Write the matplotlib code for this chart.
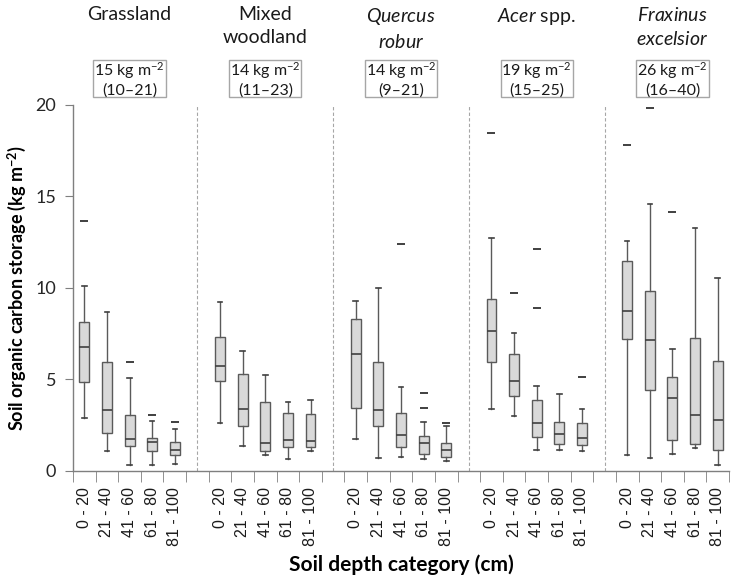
import matplotlib
matplotlib.use("Agg")
import matplotlib.pyplot as plt
from matplotlib.patches import Rectangle
from matplotlib.transforms import blended_transform_factory

plt.rcParams['font.family'] = ['Lato', 'DejaVu Sans']
plt.rcParams['mathtext.fontset'] = 'custom'
plt.rcParams['mathtext.rm'] = 'Lato'
plt.rcParams['mathtext.it'] = 'Lato:italic'
plt.rcParams['mathtext.bf'] = 'Lato:bold'

# ---------------- data ----------------
groups = ["Grassland", "Mixed\nwoodland", "$\\it{Quercus}$\n$\\it{robur}$",
          "$\\it{Acer}$ spp.", "$\\it{Fraxinus}$\n$\\it{excelsior}$"]
totals = ["15 kg m$^{-2}$\n(10–21)", "14 kg m$^{-2}$\n(11–23)", "14 kg m$^{-2}$\n(9–21)",
          "19 kg m$^{-2}$\n(15–25)", "26 kg m$^{-2}$\n(16–40)"]
depths = ["0 - 20", "21 - 40", "41 - 60", "61 - 80", "81 - 100"]

# per group: lists over depth categories
whislo = [[2.89, 1.07, 0.30, 0.30, 0.36],
          [2.58, 1.32, 0.83, 0.63, 1.07],
          [1.71, 0.67, 0.76, 0.63, 0.52],
          [3.38, 3.00, 1.14, 1.14, 1.07],
          [0.83, 0.70, 0.90, 1.23, 0.30]]
q1 = [[4.86, 2.05, 1.32, 1.05, 0.85],
      [4.92, 2.45, 1.07, 1.30, 1.30],
      [3.40, 2.42, 1.30, 0.90, 0.76],
      [5.96, 4.06, 1.85, 1.47, 1.38],
      [7.18, 4.41, 1.69, 1.45, 1.14]]
med = [[6.78, 3.33, 1.74, 1.54, 1.14],
       [5.72, 3.38, 1.51, 1.65, 1.60],
       [6.36, 3.29, 1.94, 1.51, 1.10],
       [7.62, 4.92, 2.62, 2.00, 1.80],
       [8.71, 7.14, 3.95, 3.04, 2.75]]
q3 = [[8.11, 5.96, 3.06, 1.80, 1.58],
      [7.31, 5.30, 3.77, 3.13, 3.08],
      [8.27, 5.96, 3.13, 1.87, 1.51],
      [9.37, 6.39, 3.84, 2.67, 2.62],
      [11.45, 9.84, 5.13, 7.27, 5.99]]
whishi = [[10.10, 8.66, 5.05, 2.73, 2.25],
          [9.21, 6.52, 5.24, 3.77, 3.84],
          [9.29, 10.00, 4.59, 2.65, 2.42],
          [12.74, 7.51, 4.61, 4.20, 3.38],
          [12.55, 14.59, 6.67, 13.26, 10.52]]
fliers = [[[13.67], [], [5.92], [3.02], [2.64]],
          [[], [], [], [], []],
          [[], [], [12.38], [4.24, 3.40], [2.62]],
          [[18.45], [9.70], [12.12, 8.88], [], [5.13]],
          [[17.80], [19.82], [14.15], [], []]]

yticks = [0, 5, 10, 15, 20]

# ---------------- figure ----------------
fig = plt.figure(figsize=(7.34, 5.78), dpi=100)
ax = fig.add_axes([73 / 734, 1 - 470.5 / 578, 656 / 734, 365.5 / 578])

ng = len(groups)
nd = len(depths)
slot = nd + 1
stats, positions, labels = [], [], []
for g in range(ng):
    for i in range(nd):
        stats.append(dict(whislo=whislo[g][i], q1=q1[g][i], med=med[g][i],
                          q3=q3[g][i], whishi=whishi[g][i], fliers=fliers[g][i]))
        positions.append(g * slot + i + 0.5)
        labels.append(depths[i])

edge = '#5a5a5a'
ax.bxp(stats, positions=positions, widths=0.44, patch_artist=True,
       showfliers=True, capwidths=0.2,
       boxprops=dict(facecolor='#d9d9d9', edgecolor=edge, linewidth=1.0),
       medianprops=dict(color='#404040', linewidth=1.2),
       whiskerprops=dict(color=edge, linewidth=1.0),
       capprops=dict(color='#404040', linewidth=1.2),
       flierprops=dict(marker='_', markersize=6, markeredgecolor='#404040',
                       markeredgewidth=1.4, linestyle='none'))

total_slots = ng * slot - 1
ax.set_xlim(0, total_slots)
ax.set_ylim(0, 20)

# separators
for g in range(1, ng):
    ax.plot([g * slot - 0.5] * 2, [0, 20], linestyle=(0, (3, 2)), color='#a6a6a6',
            linewidth=0.8, zorder=0)

# axes styling
for s in ['top', 'right']:
    ax.spines[s].set_visible(False)
for s in ['left', 'bottom']:
    ax.spines[s].set_color('#7f7f7f')
    ax.spines[s].set_linewidth(1.0)

ax.set_xticks(positions)
ax.set_xticklabels(labels, rotation=90, fontfamily=['Liberation Sans', 'DejaVu Sans'],
                   fontsize=11.5, color='#1a1a1a')
ax.tick_params(axis='x', which='major', length=0, pad=12)
ax.set_xticks(range(0, total_slots + 1), minor=True)
ax.tick_params(axis='x', which='minor', length=8, direction='out', color='#7f7f7f')

ax.set_yticks(yticks)
ax.set_yticklabels([str(v) for v in yticks], fontsize=13, color='#262626')
ax.tick_params(axis='y', length=6, direction='out', color='#7f7f7f', pad=6)

ax.set_ylabel("Soil organic carbon storage (kg m$^{\\mathbf{-2}}$)", fontsize=13,
              fontweight='bold')
ax.yaxis.set_label_coords(-0.068, 0.5)
ax.set_xlabel("Soil depth category (cm)", fontsize=15, fontweight='bold', labelpad=6)

# group titles and total boxes
tr = blended_transform_factory(ax.transData, ax.transAxes)
for g in range(ng):
    cx = g * slot + nd / 2
    ax.text(cx, 1.272, groups[g], transform=tr, ha='center', va='top',
            fontsize=14, color='#1a1a1a', linespacing=1.45)
    ax.add_patch(Rectangle((cx - 1.6, 1.022), 3.2, 0.101, transform=tr,
                           facecolor='white', edgecolor='#a6a6a6', linewidth=1.0,
                           clip_on=False))
    ax.text(cx, 1.0725, totals[g], transform=tr, ha='center', va='center',
            fontsize=11.5, color='#1a1a1a', linespacing=1.2)

fig.savefig("out.png", dpi=100)
